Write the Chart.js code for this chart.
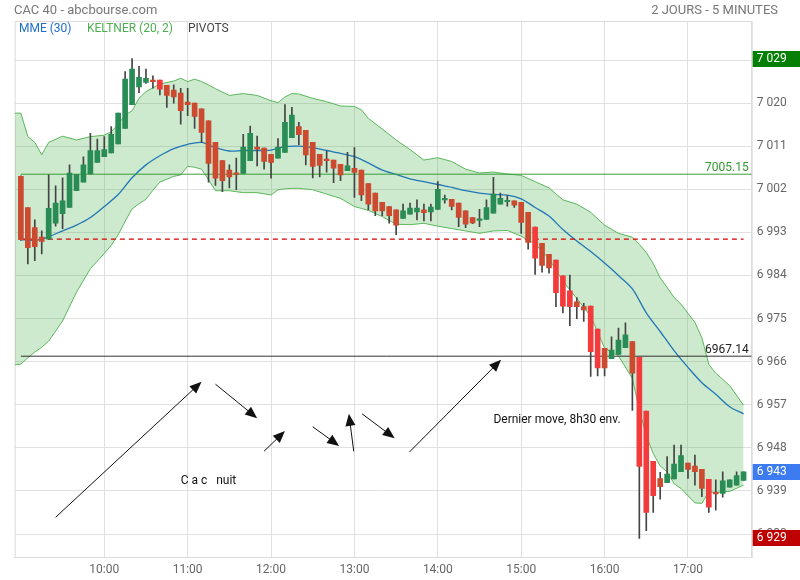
<!DOCTYPE html>
<html>
<head>
<meta charset="utf-8">
<script src="https://cdn.jsdelivr.net/npm/chart.js@4.4.1/dist/chart.umd.min.js"></script>
<style>
html, body { margin: 0; padding: 0; background: #fff; }
#wrap { position: relative; width: 800px; height: 580px; font-family: Roboto, "Noto Sans", sans-serif; }
#wrap canvas { position: absolute; left: 0; top: 0; }
.hdr { position: absolute; font-size: 13px; color: #777; line-height: 15px; white-space: nowrap; }
.leg { position: absolute; top: 21px; font-size: 12px; line-height: 14px; white-space: nowrap; z-index: 2; }
</style>
</head>
<body>
<div id="wrap">
  <canvas id="chart" width="800" height="580"></canvas>
  <div class="hdr" style="left:14px;top:2px;">CAC 40 - abcbourse.com</div>
  <div class="hdr" style="right:22px;top:2px;">2 JOURS - 5 MINUTES</div>
  <div class="leg" style="left:19px;color:#1f6fc6;">MME (30)</div>
  <div class="leg" style="left:87px;color:#4caf50;">KELTNER (20, 2)</div>
  <div class="leg" style="left:188px;color:#444;">PIVOTS</div>
</div>
<script>
// 5 minute candles, index 0 = 9:00
const opens = [
  7004.7, 6998.2, 6994.0, 6992.0, 6991.6, 6994.9, 6996.9, 6998.2, 7001.7, 7003.5,
  7005.2, 7007.6, 7008.8, 7009.6, 7011.5, 7014.7, 7019.7, 7023.4, 7024.3, 7024.8,
  7024.8, 7023.7, 7022.7, 7022.1, 7020.2, 7020.0, 7018.8, 7016.3, 7011.8, 7008.0,
  7006.0, 7005.4, 7005.3, 7008.0, 7010.8, 7010.6, 7009.3, 7008.5, 7009.7, 7012.8,
  7015.1, 7014.3, 7011.8, 7009.3, 7008.3, 7008.1, 7007.2, 7005.9, 7006.4, 7006.0,
  7003.2, 7001.2, 6999.3, 6998.4, 6997.7, 6995.9, 6996.8, 6997.3, 6997.7, 6997.3,
  6997.8, 6999.8, 6999.9, 6999.1, 6997.5, 6996.1, 6995.5, 6995.7, 6997.0, 6998.9,
  6999.4, 6999.6, 6999.3, 6997.2, 6994.1, 6990.7, 6988.4, 6987.2, 6983.9, 6980.8,
  6978.5, 6977.5, 6977.6, 6972.8, 6968.8, 6966.6, 6967.5, 6968.9, 6970.2, 6966.9,
  6955.7, 6945.2, 6941.6, 6940.7, 6941.5, 6943.0, 6944.8, 6944.2, 6943.5, 6941.4,
  6938.6, 6938.5, 6939.8, 6940.2, 6941.2
];
const highs = [
  7004.8, 6998.2, 6995.6, 6993.3, 7005.0, 7002.7, 7004.4, 7007.1, 7005.1, 7008.8,
  7013.7, 7012.5, 7013.0, 7015.1, 7017.9, 7026.6, 7029.3, 7027.7, 7027.1, 7025.7,
  7024.8, 7023.7, 7023.8, 7023.1, 7023.1, 7020.0, 7018.8, 7016.3, 7011.8, 7008.0,
  7007.1, 7008.5, 7013.5, 7015.2, 7013.1, 7010.6, 7009.3, 7012.6, 7019.7, 7019.1,
  7016.0, 7014.3, 7011.8, 7009.3, 7010.0, 7008.1, 7007.2, 7009.7, 7010.7, 7006.0,
  7003.2, 7001.2, 6999.3, 6998.4, 6997.7, 6998.9, 6999.1, 6999.8, 6998.9, 6998.9,
  7003.6, 7000.8, 6999.9, 6999.1, 6997.5, 6996.1, 6997.8, 6999.8, 7004.5, 7001.2,
  7000.7, 6999.6, 6999.3, 6997.2, 6994.1, 6990.7, 6988.4, 6987.2, 6983.9, 6984.1,
  6979.4, 6978.2, 6977.6, 6972.8, 6968.8, 6971.2, 6973.0, 6974.1, 6970.2, 6966.9,
  6955.7, 6945.2, 6942.9, 6946.2, 6948.6, 6948.6, 6944.8, 6946.5, 6943.5, 6941.4,
  6941.3, 6943.0, 6941.3, 6943.0, 6943.0
];
const lows = [
  6991.3, 6986.4, 6987.1, 6988.5, 6991.6, 6994.3, 6993.8, 6998.2, 7001.7, 7003.5,
  7005.2, 7007.6, 7008.8, 7009.6, 7011.5, 7014.7, 7019.7, 7022.2, 7024.1, 7023.1,
  7021.7, 7019.1, 7020.0, 7015.6, 7017.4, 7014.7, 7011.8, 7003.5, 7002.8, 7001.5,
  7002.3, 7001.9, 7005.3, 7008.0, 7006.9, 7006.2, 7004.3, 7008.5, 7009.7, 7012.8,
  7011.3, 7007.1, 7004.4, 7004.6, 7005.6, 7003.4, 7003.8, 7005.9, 7000.3, 6999.6,
  6997.7, 6996.5, 6996.5, 6994.9, 6992.5, 6995.9, 6996.8, 6995.6, 6995.4, 6995.4,
  6997.8, 6999.1, 6997.7, 6994.2, 6994.0, 6994.8, 6994.2, 6995.7, 6997.0, 6998.9,
  6998.5, 6998.2, 6992.8, 6989.5, 6984.2, 6984.7, 6984.5, 6977.5, 6976.2, 6973.5,
  6975.0, 6974.4, 6962.9, 6963.0, 6963.0, 6966.6, 6967.5, 6968.9, 6955.8, 6929.1,
  6930.7, 6934.5, 6937.3, 6940.7, 6941.5, 6943.0, 6941.6, 6940.2, 6937.8, 6934.5,
  6935.0, 6937.7, 6939.8, 6940.2, 6941.2
];
const closes = [
  6991.5, 6989.8, 6990.0, 6991.1, 6998.0, 6999.1, 6999.6, 7005.4, 7005.1, 7007.1,
  7010.1, 7010.1, 7010.3, 7013.5, 7017.9, 7025.0, 7027.1, 7025.4, 7025.2, 7024.5,
  7022.9, 7021.6, 7021.3, 7018.4, 7019.7, 7017.2, 7013.9, 7007.4, 7004.3, 7003.8,
  7004.6, 7005.1, 7010.8, 7013.7, 7010.4, 7007.8, 7007.6, 7010.8, 7016.0, 7017.5,
  7013.4, 7009.2, 7006.8, 7007.0, 7008.0, 7006.4, 7005.0, 7006.9, 7005.5, 7000.8,
  6998.9, 6997.5, 6997.5, 6996.5, 6994.5, 6997.5, 6998.1, 6998.1, 6997.1, 6998.3,
  7002.0, 7000.0, 6998.4, 6996.1, 6994.7, 6995.0, 6995.8, 6998.2, 7001.0, 7000.1,
  6999.7, 6998.7, 6995.1, 6990.9, 6987.6, 6986.1, 6985.6, 6980.4, 6977.6, 6977.5,
  6977.5, 6976.8, 6968.1, 6964.7, 6964.7, 6968.4, 6970.5, 6971.6, 6963.6, 6944.1,
  6934.5, 6938.0, 6939.9, 6942.5, 6944.6, 6946.4, 6943.5, 6943.0, 6939.5, 6935.6,
  6938.4, 6941.1, 6941.3, 6942.2, 6943.0
];

// Keltner (20, 2) envelope, read at these candle indices
const kcIdx = [
  -1, 0, 1, 2, 3, 4, 6, 8, 10, 12, 13, 14, 15, 16, 17, 18, 19, 20, 22, 23,
  24, 25, 26, 27, 28, 30, 32, 34, 36, 37, 38, 39, 40, 42, 44, 46, 48, 49, 50, 52,
  54, 56, 58, 60, 62, 64, 66, 68, 70, 72, 74, 76, 78, 80, 82, 84, 86, 88, 89, 90,
  91, 92, 93, 94, 95, 96, 97, 98, 99, 100, 102, 104
];
const kcUpper = [
  7017.9, 7017.9, 7013.0, 7011.8, 7009.2, 7011.8, 7013.1, 7012.3, 7013.0, 7013.3,
  7014.0, 7015.6, 7017.5, 7018.4, 7021.0, 7022.4, 7023.2, 7024.0, 7024.6, 7025.2,
  7024.5, 7025.0, 7024.5, 7023.8, 7023.0, 7021.6, 7022.0, 7021.6, 7020.5, 7020.1,
  7021.3, 7022.0, 7021.9, 7021.0, 7020.3, 7019.4, 7019.3, 7018.6, 7016.8, 7014.6,
  7012.3, 7010.3, 7008.1, 7008.6, 7007.8, 7006.2, 7005.4, 7005.6, 7005.2, 7004.9,
  7003.6, 7002.3, 6999.8, 6998.9, 6997.2, 6994.5, 6992.8, 6992.0, 6990.5, 6988.8,
  6986.5, 6983.5, 6981.5, 6979.4, 6978.0, 6976.1, 6974.2, 6971.0, 6965.4, 6963.6,
  6961.0, 6956.9
];
const kcLower = [
  6965.3, 6965.5, 6966.8, 6968.0, 6969.0, 6970.3, 6974.5, 6980.5, 6985.4, 6988.6,
  6990.3, 6992.5, 6995.3, 6997.9, 6999.0, 6999.9, 7001.8, 7003.5, 7004.7, 7005.0,
  7006.8, 7006.6, 7006.2, 7004.0, 7001.7, 7001.7, 7001.3, 7001.3, 7000.8, 7001.9,
  7002.1, 7002.2, 7002.2, 7001.9, 7001.0, 7000.1, 6998.4, 6998.0, 6997.6, 6996.3,
  6994.7, 6994.6, 6994.9, 6994.3, 6993.8, 6993.3, 6992.8, 6993.3, 6993.4, 6992.2,
  6990.6, 6987.5, 6982.8, 6979.2, 6975.5, 6968.8, 6967.2, 6962.5, 6955.9, 6950.5,
  6946.8, 6944.2, 6943.0, 6940.5, 6939.5, 6938.0, 6936.5, 6936.4, 6938.8, 6938.7,
  6938.9, 6940.2
];

// MME (30)
const emaIdx = [
  0, 2, 3, 4, 6, 8, 10, 12, 14, 16, 18, 20, 22, 24, 26, 28, 30, 32, 34, 36,
  38, 40, 42, 44, 46, 48, 50, 52, 54, 56, 58, 60, 62, 64, 66, 68, 70, 72, 74, 76,
  78, 80, 82, 84, 86, 88, 90, 92, 94, 96, 98, 100, 102, 104
];
const ema30 = [
  6991.5, 6991.3, 6991.6, 6992.1, 6993.3, 6994.5, 6996.1, 6998.4, 7000.9, 7004.4,
  7007.1, 7009.0, 7010.5, 7011.4, 7011.8, 7010.7, 7010.0, 7010.1, 7010.1, 7010.2,
  7010.9, 7011.0, 7010.7, 7010.1, 7009.5, 7008.8, 7007.5, 7006.0, 7005.1, 7004.2,
  7003.6, 7003.0, 7002.4, 7001.7, 7001.2, 7000.9, 7000.8, 7000.0, 6998.2, 6996.4,
  6993.6, 6991.2, 6989.0, 6986.6, 6984.0, 6981.2, 6976.2, 6972.3, 6968.3, 6964.8,
  6961.6, 6959.2, 6956.6, 6955.1
];

// pivots
const pivotValues = [7005.15, 6991.6, 6967.14];
const pivotLabels = ['7005.15', '', '6967.14'];

// axes
const hourTicks = [12, 24, 36, 48, 60, 72, 84, 96];
const hourLabels = ['10:00', '11:00', '12:00', '13:00', '14:00', '15:00', '16:00', '17:00'];
const priceTicks = [6930, 6939, 6948, 6957, 6966, 6975, 6984, 6993, 7002, 7011, 7020, 7029];
const priceLabels = ['6 930', '6 939', '6 948', '6 957', '6 966', '6 975', '6 984', '6 993', '7 002', '7 011', '7 020', '7 029'];

// hand drawn notes (candle index, price)
const arrows = [
  [5.0, 6933.5, 26.0, 6961.8],
  [28.0, 6961.3, 34.0, 6954.2],
  [35.0, 6947.3, 38.0, 6951.5],
  [42.0, 6952.4, 45.8, 6948.4],
  [47.9, 6947.3, 47.2, 6955.1],
  [49.1, 6955.1, 53.8, 6950.0],
  [55.9, 6947.1, 69.1, 6966.4]
];
const notes = [
  { text: 'C a c   nuit', x: 23.0, y: 6941.1 },
  { text: 'Dernier move, 8h30 env.', x: 68.0, y: 6953.8 }
];

const X_MIN = -0.89, X_MAX = 105.17;
const Y_MIN = 6925.2, Y_MAX = 7037.15;

const GREEN = '#2a8c55', RED = '#cc4a2f', BRIGHT = '#f43b3b';
const brightBars = [20, 74, 77, 78, 79, 82, 83, 89, 90, 91, 99];

const fmt = v => String(Math.round(v)).replace(/^(\d)(\d{3})$/, '$1 $2');

const frame = {
  id: 'frame',
  beforeDatasetsDraw(chart) {
    const a = chart.chartArea, ctx = chart.ctx;
    ctx.save();
    ctx.strokeStyle = '#dcdcdc';
    ctx.lineWidth = 1;
    ctx.strokeRect(a.left + 0.5, a.top + 0.5, a.right - a.left, a.bottom - a.top);
    ctx.restore();
  },
  afterDatasetsDraw(chart) {
    const ctx = chart.ctx, xs = chart.scales.x, ys = chart.scales.y, a = chart.chartArea;
    ctx.save();
    ctx.font = '12px Roboto, sans-serif';
    // pivot labels
    ctx.textAlign = 'right';
    ctx.textBaseline = 'alphabetic';
    pivotValues.forEach((v, k) => {
      if (!pivotLabels[k]) return;
      ctx.fillStyle = k === 0 ? '#2e9a2e' : '#222';
      ctx.fillText(pivotLabels[k], a.right - 3, ys.getPixelForValue(v) - 3);
    });
    // arrows
    ctx.strokeStyle = '#111';
    ctx.fillStyle = '#111';
    ctx.lineWidth = 1;
    arrows.forEach(ar => {
      const x1 = xs.getPixelForValue(ar[0]), y1 = ys.getPixelForValue(ar[1]);
      const x2 = xs.getPixelForValue(ar[2]), y2 = ys.getPixelForValue(ar[3]);
      const ang = Math.atan2(y2 - y1, x2 - x1);
      ctx.beginPath();
      ctx.moveTo(x1, y1);
      ctx.lineTo(x2 - 6 * Math.cos(ang), y2 - 6 * Math.sin(ang));
      ctx.stroke();
      ctx.beginPath();
      ctx.moveTo(x2, y2);
      ctx.lineTo(x2 - 12 * Math.cos(ang) + 5 * Math.sin(ang), y2 - 12 * Math.sin(ang) - 5 * Math.cos(ang));
      ctx.lineTo(x2 - 12 * Math.cos(ang) - 5 * Math.sin(ang), y2 - 12 * Math.sin(ang) + 5 * Math.cos(ang));
      ctx.closePath();
      ctx.fill();
    });
    // notes
    ctx.textAlign = 'left';
    ctx.textBaseline = 'middle';
    notes.forEach(n => ctx.fillText(n.text, xs.getPixelForValue(n.x), ys.getPixelForValue(n.y)));
    ctx.restore();
  },
  afterDraw(chart) {
    const ctx = chart.ctx, ys = chart.scales.y, a = chart.chartArea;
    const hi = Math.max(...highs), lo = Math.min(...lows), last = closes[closes.length - 1];
    ctx.save();
    ctx.font = '12px Roboto, sans-serif';
    ctx.textBaseline = 'middle';
    ctx.textAlign = 'left';
    [[hi, '#057f05'], [last, '#3d7cf0'], [lo, '#bf0000']].forEach(b => {
      const y = ys.getPixelForValue(b[0]);
      ctx.fillStyle = b[1];
      ctx.fillRect(a.right + 1, Math.round(y) - 8, 48, 16);
      ctx.fillStyle = '#fff';
      ctx.fillText(fmt(b[0]), a.right + 5, y);
    });
    ctx.restore();
  }
};

new Chart(document.getElementById('chart'), {
  type: 'bar',
  data: {
    datasets: [
      {
        type: 'line', label: 'kcUpper', order: 10,
        data: kcIdx.map((x, k) => ({ x: x, y: kcUpper[k] })),
        borderColor: '#5cb85c', borderWidth: 1, pointRadius: 0, fill: false
      },
      {
        type: 'line', label: 'kcLower', order: 9,
        data: kcIdx.map((x, k) => ({ x: x, y: kcLower[k] })),
        borderColor: '#5cb85c', borderWidth: 1, pointRadius: 0,
        fill: '-1', backgroundColor: 'rgba(76,175,80,0.28)'
      },
      {
        type: 'line', label: 'MME', order: 6,
        data: emaIdx.map((x, k) => ({ x: x, y: ema30[k] })),
        borderColor: '#2277b5', borderWidth: 1.3, pointRadius: 0, tension: 0.3, fill: false
      },
      {
        type: 'line', label: 'pivotHigh', order: 5,
        data: [{ x: 0, y: pivotValues[0] }, { x: X_MAX, y: pivotValues[0] }],
        borderColor: '#3a9d3a', borderWidth: 1, pointRadius: 0, fill: false
      },
      {
        type: 'line', label: 'pivotMid', order: 5,
        data: [{ x: 0, y: pivotValues[1] }, { x: 104, y: pivotValues[1] }],
        borderColor: '#d80000', borderWidth: 1.3, borderDash: [5, 4], pointRadius: 0, fill: false
      },
      {
        type: 'line', label: 'pivotLow', order: 5,
        data: [{ x: 0, y: pivotValues[2] }, { x: X_MAX, y: pivotValues[2] }],
        borderColor: '#333', borderWidth: 1, pointRadius: 0, fill: false
      },
      {
        label: 'wicks', order: 2, grouped: false,
        data: highs.map((h, i) => ({ x: i, y: [lows[i], h] })),
        backgroundColor: '#444', barThickness: 1, minBarLength: 1
      },
      {
        label: 'bodies', order: 1, grouped: false,
        data: opens.map((o, i) => ({ x: i, y: [o, closes[i]] })),
        backgroundColor: ctx => {
          const i = ctx.dataIndex;
          if (closes[i] >= opens[i]) return GREEN;
          return brightBars.includes(i) ? BRIGHT : RED;
        },
        barThickness: 5, minBarLength: 1.5
      }
    ]
  },
  options: {
    responsive: false,
    animation: false,
    layout: { padding: { left: 14.7, top: 21, right: 0, bottom: 0 } },
    plugins: { legend: { display: false }, tooltip: { enabled: false } },
    scales: {
      x: {
        type: 'linear', min: X_MIN, max: X_MAX, offset: false,
        afterBuildTicks: s => { s.ticks = hourTicks.map(v => ({ value: v })); },
        afterFit: s => { s.height = 23; },
        ticks: {
          callback: v => hourLabels[hourTicks.indexOf(v)],
          color: '#666', font: { family: 'Roboto', size: 12 }, padding: 6, maxRotation: 0, autoSkip: false
        },
        grid: { color: '#e0e0e0', drawTicks: false, offset: false },
        border: { color: '#dcdcdc' }
      },
      y: {
        position: 'right', min: Y_MIN, max: Y_MAX,
        afterBuildTicks: s => { s.ticks = priceTicks.map(v => ({ value: v })); },
        afterFit: s => { s.width = 48.3; },
        ticks: {
          callback: v => priceLabels[priceTicks.indexOf(v)],
          color: '#666', font: { family: 'Roboto', size: 12 }, padding: 5, autoSkip: false
        },
        grid: { color: '#e0e0e0', drawTicks: false },
        border: { color: '#dcdcdc' }
      }
    }
  },
  plugins: [frame]
});
</script>
</body>
</html>
